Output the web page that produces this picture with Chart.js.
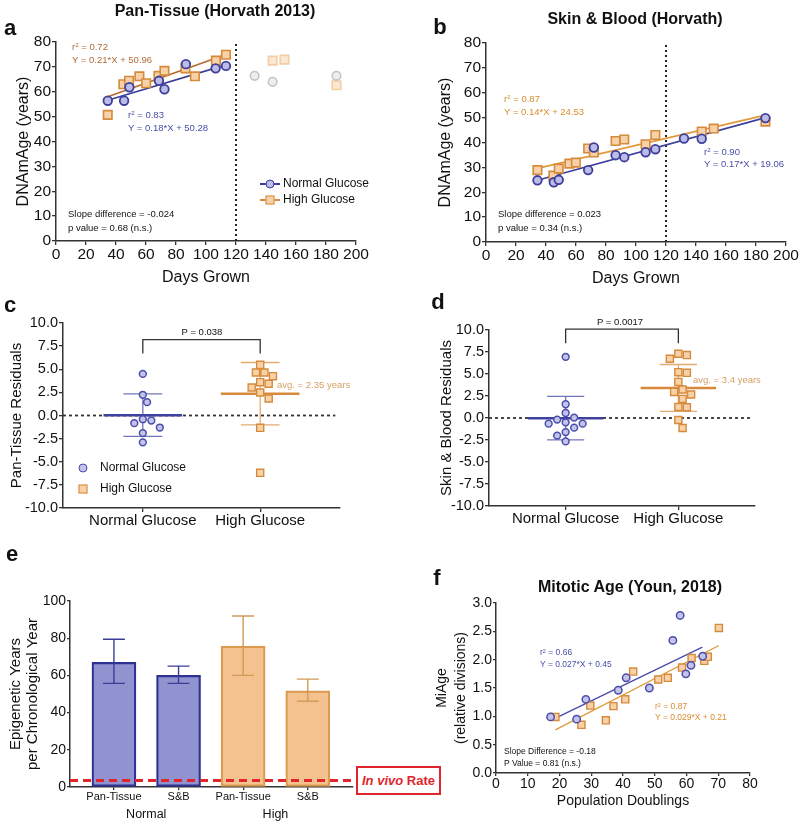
<!DOCTYPE html>
<html>
<head>
<meta charset="utf-8">
<title>Epigenetic ageing panels</title>
<script src="https://cdn.jsdelivr.net/npm/chart.js@4.4.1/dist/chart.umd.min.js"></script>
<style>
  body { margin: 0; background: #fff; }
  #fig { position: relative; width: 800px; height: 826px; overflow: hidden; font-family: "Liberation Sans", Arial, Helvetica, sans-serif; color: #111; }
  #fig canvas { position: absolute; }
  .t { position: absolute; white-space: nowrap; line-height: 1.15; transform: translateY(-50%); }
  .c { transform: translate(-50%, -50%); }
  .lab { font-size: 22px; font-weight: bold; }
  .ttl { font-size: 16px; font-weight: bold; }
  .s { font-size: 9.5px; }
  .xs { font-size: 8.5px; }
  .leg { font-size: 12px; }
  .blue { color: #4a4ea8; }
  .brown { color: #b06a35; }
  .org { color: #d98c2e; }
  .avg { color: #d6a062; }
  sup { font-size: 65%; line-height: 0; vertical-align: 0.45em; }
  .sym { position: absolute; transform: translate(-50%, -50%); box-sizing: border-box; }
</style>
</head>
<body>
<div id="fig"></div>
<script>
// ---- panel a: Pan-Tissue clock vs days grown
const aNormDays = [34.5, 45.4, 48.9, 68.6, 72.3, 86.6, 106.4, 113.3];
const aNormAge = [56.4, 56.4, 61.8, 64.4, 61.0, 71.1, 69.4, 70.4];
const aNormLateDays = [132.4, 144.4, 187];
const aNormLateAge = [66.4, 64.0, 66.4];
const aHighDays = [34.5, 44.9, 48.7, 55.6, 60.1, 68.3, 72.3, 86.3, 92.6, 106.6, 113.3];
const aHighAge = [50.7, 63.0, 64.4, 66.2, 63.4, 66.4, 68.4, 69.4, 66.2, 72.5, 74.9];
const aHighLateDays = [144.4, 152.3, 187];
const aHighLateAge = [72.5, 72.9, 62.6];
const aNormFit = [[34.5, 56.6], [113.3, 70.8]];
const aHighFit = [[34.5, 58.0], [113.3, 75.0]];

// ---- panel b: Skin & Blood clock vs days grown
const bNormDays = [34.3, 45.2, 48.5, 68.1, 71.9, 86.4, 92.2, 106.4, 112.9, 132, 143.8, 186.3];
const bNormAge = [24.8, 24.0, 25.0, 28.9, 38.0, 34.9, 34.1, 36.1, 37.3, 41.6, 41.5, 49.8];
const bHighDays = [34.3, 44.9, 48.5, 55.6, 59.9, 68.1, 71.9, 86.4, 92.2, 106.4, 112.9, 143.8, 151.8, 186.3];
const bHighAge = [28.9, 26.7, 29.5, 31.5, 31.9, 37.6, 36.0, 40.6, 41.2, 39.3, 43.0, 44.4, 45.6, 48.4];
const bNormFit = [[34.3, 24.8], [186.3, 50.0]];
const bHighFit = [[34.3, 29.6], [186.3, 51.0]];
const cutoffDay = 120;

// ---- panels c, d: residuals
const groups = ['Normal Glucose', 'High Glucose'];
const cNormRes = [4.5, 2.24, 1.44, -0.4, -0.54, -0.83, -1.3, -1.9, -2.9];
const cHighRes = [5.48, 4.65, 4.25, 4.65, 3.43, 3.03, 3.6, 2.49, 1.84, -1.33, -6.2];
const dNormRes = [6.95, 1.56, 0.57, 0.05, -0.18, -0.49, -0.64, -0.64, -1.1, -1.6, -2.0, -2.66];
const dHighRes = [7.3, 6.73, 7.15, 5.21, 5.13, 4.1, 3.24, 2.67, 2.96, 2.17, 1.22, 1.25, -0.23, -1.14];
const cBracket = [6.7, 8.2];
const dBracket = [8.5, 10.1];

// ---- panel e: rates
const eLabels = ['Pan-Tissue', 'S&B', 'Pan-Tissue', 'S&B'];
const eGroups = ['Normal', 'High'];
const eRate = [67.0, 60.0, 75.8, 51.7];
const eLow = [55.7, 55.7, 60.0, 46.1];
const eHigh = [79.4, 65.0, 91.9, 58.0];
const inVivoRate = 3.5;

// ---- panel f: MiAge vs population doublings
const fNormPD = [17.2, 25.4, 28.3, 38.5, 41.0, 48.3, 55.7, 58.0, 59.8, 61.4, 65.1];
const fNormAge = [0.99, 0.95, 1.30, 1.46, 1.68, 1.50, 2.34, 2.78, 1.75, 1.90, 2.06];
const fHighPD = [18.7, 26.9, 29.7, 34.6, 37.0, 40.7, 43.2, 51.1, 54.1, 58.6, 61.6, 65.6, 66.7, 70.2];
const fHighAge = [0.99, 0.85, 1.19, 0.93, 1.18, 1.30, 1.79, 1.65, 1.68, 1.86, 2.03, 1.98, 2.05, 2.56];
const fNormFit = [[18.6, 0.965], [65.0, 2.22]];
const fHighFit = [[18.7, 0.76], [70.2, 2.25]];

const NORM_EDGE = '#3d3f9b', NORM_FILL = '#bcbce8';
const HIGH_EDGE = '#d68a3c', HIGH_FILL = '#f7d2a8';

Chart.defaults.font.family = '"Liberation Sans", Arial, Helvetica, sans-serif';
Chart.defaults.color = '#111';
Chart.defaults.animation = false;
Chart.defaults.responsive = false;
Chart.defaults.plugins.legend.display = false;
Chart.defaults.plugins.tooltip.enabled = false;

const fig = document.getElementById('fig');

function pts(xs, ys) { return xs.map((x, i) => ({ x: x, y: ys[i] })); }

function dots(data, shape, edge, fill, r, bw) {
  return { type: 'scatter', data: data, pointStyle: shape, pointRadius: r, pointBorderWidth: bw,
    pointBorderColor: edge, pointBackgroundColor: fill, order: 0 };
}

// several line segments in one dataset, split with NaN gaps
function path(segs, color, width, dash, order) {
  const data = [];
  segs.forEach((s, k) => {
    if (k) data.push({ x: s[0][0], y: NaN });
    s.forEach(p => data.push({ x: p[0], y: p[1] }));
  });
  return { type: 'line', data: data, borderColor: color, borderWidth: width, borderDash: dash || [],
    pointRadius: 0, fill: false, tension: 0, spanGaps: false, clip: false,
    order: order == null ? 1 : order };
}

function axis(o) {
  return {
    type: 'linear', min: o.min, max: o.max, position: o.pos, bounds: 'data', offset: false,
    weight: o.weight || 0,
    afterFit: o.pos === 'left' ? s => { s.width = o.fit; } : s => { s.height = o.fit; },
    afterBuildTicks: o.at ? s => { s.ticks = o.at.map(v => ({ value: v })); } : undefined,
    ticks: { stepSize: o.step, font: { size: o.size }, color: '#111', padding: o.pad == null ? 1 : o.pad,
      maxRotation: 0, minRotation: 0, autoSkip: false, callback: o.fmt || (v => v) },
    grid: { display: !o.noGrid, drawOnChartArea: false, drawTicks: !o.noGrid, tickLength: o.tick == null ? 4 : o.tick,
      color: '#333', lineWidth: 1.3, offset: false },
    border: { display: !o.noBorder, color: '#333', width: 1.5 },
    title: { display: !!o.title, text: o.title, font: { size: o.tsize, lineHeight: o.tlh || 1.2 }, color: '#111',
      padding: { top: 2, bottom: 2 } }
  };
}

function mk(box, area, yW, xH, config) {
  const cv = document.createElement('canvas');
  cv.width = box.w; cv.height = box.h;
  cv.style.left = box.x + 'px'; cv.style.top = box.y + 'px';
  fig.appendChild(cv);
  config.options.layout = { padding: {
    left: area.l - box.x - yW, top: area.t - box.y,
    right: box.x + box.w - area.r, bottom: box.y + box.h - area.b - xH } };
  return new Chart(cv, config);
}

function note(x, y, html, cls) {
  const d = document.createElement('div');
  d.className = 't ' + (cls || '');
  d.style.left = x + 'px'; d.style.top = y + 'px';
  d.innerHTML = html;
  fig.appendChild(d);
}

function sym(x, y, shape, edge, fill, withLine) {
  if (withLine) {
    const l = document.createElement('div');
    l.style.cssText = `position:absolute;left:${x - 10}px;top:${y - 0.75}px;width:20px;height:1.5px;background:${edge};`;
    fig.appendChild(l);
  }
  const s = document.createElement('div');
  s.className = 'sym';
  s.style.cssText += `left:${x}px;top:${y}px;width:9px;height:9px;border:1.6px solid ${edge};background:${fill};border-radius:${shape === 'circle' ? '50%' : '0'};`;
  fig.appendChild(s);
}

// simple beeswarm so the dots of one group do not overlap
function swarm(center, vals, pxX, pxY, d) {
  const placed = [];
  const xs = new Array(vals.length);
  const order = vals.map((v, i) => i).sort((i, j) => vals[j] - vals[i]);
  order.forEach(i => {
    const y = vals[i] * pxY;
    for (let k = 0; k < 60; k++) {
      const off = (k === 0 ? 0 : (k % 2 ? 1 : -1) * Math.ceil(k / 2)) * d * 0.5;
      if (placed.every(p => Math.hypot(p[0] - off, p[1] - y) >= d)) {
        placed.push([off, y]);
        xs[i] = center + off / pxX;
        break;
      }
    }
  });
  return vals.map((v, i) => ({ x: xs[i], y: v }));
}

function meanSd(vals) {
  const m = vals.reduce((a, b) => a + b, 0) / vals.length;
  const v = vals.reduce((a, b) => a + (b - m) * (b - m), 0) / (vals.length - 1);
  return [m, Math.sqrt(v)];
}

function meanBars(c, vals, mainColor, sdColor) {
  const [m, sd] = meanSd(vals);
  return [
    path([[[c - 0.335, m], [c + 0.335, m]]], mainColor, 2.5),
    path([[[c, m - sd], [c, m + sd]], [[c - 0.165, m + sd], [c + 0.165, m + sd]],
      [[c - 0.165, m - sd], [c + 0.165, m - sd]]], sdColor, 1.3)
  ];
}

// ---------------- panel a
mk({ x: 0, y: 0, w: 400, h: 300 }, { l: 56, r: 356, t: 42, b: 241 }, 44, 48, {
  type: 'scatter',
  data: { datasets: [
    dots(pts(aNormDays, aNormAge), 'circle', NORM_EDGE, NORM_FILL, 4.3, 1.8),
    dots(pts(aHighDays, aHighAge), 'rect', HIGH_EDGE, HIGH_FILL, 6, 1.6),
    dots(pts(aNormLateDays, aNormLateAge), 'circle', '#c4c4c4', '#eeeeee', 4.3, 1.6),
    dots(pts(aHighLateDays, aHighLateAge), 'rect', '#f2cda6', '#fbe7d2', 6, 1.6),
    path([aNormFit], '#3d3f9b', 1.6),
    path([aHighFit], '#b8692e', 1.6),
    path([[[cutoffDay, 0], [cutoffDay, 80]]], '#222', 2, [2, 3])
  ] },
  options: { scales: {
    x: axis({ min: 0, max: 200, step: 20, pos: 'bottom', size: 15.5, fit: 48, pad: 0, title: 'Days Grown', tsize: 16 }),
    y: axis({ min: 0, max: 80, step: 10, pos: 'left', size: 15.5, fit: 44, title: 'DNAmAge (years)', tsize: 16 })
  } }
});

// ---------------- panel b
mk({ x: 400, y: 0, w: 400, h: 300 }, { l: 486, r: 786, t: 43, b: 242 }, 52, 48, {
  type: 'scatter',
  data: { datasets: [
    dots(pts(bNormDays, bNormAge), 'circle', NORM_EDGE, NORM_FILL, 4.3, 1.8),
    dots(pts(bHighDays, bHighAge), 'rect', HIGH_EDGE, HIGH_FILL, 6, 1.6),
    path([bNormFit], '#3d3f9b', 1.6),
    path([bHighFit], '#e09a3c', 1.6),
    path([[[cutoffDay, 0], [cutoffDay, 80]]], '#222', 2, [2, 3])
  ] },
  options: { scales: {
    x: axis({ min: 0, max: 200, step: 20, pos: 'bottom', size: 15.5, fit: 48, pad: 0, title: 'Days Grown', tsize: 16 }),
    y: axis({ min: 0, max: 80, step: 10, pos: 'left', size: 15.5, fit: 52, title: 'DNAmAge (years)', tsize: 16 })
  } }
});

// ---------------- panels c and d (residual dot plots)
function residualPanel(box, area, yW, normVals, highVals, bracket, title) {
  const xmin = -0.68, xmax = 1.68;
  const pxX = (area.r - area.l) / (xmax - xmin);
  const pxY = (area.b - area.t) / 20;
  const norm = swarm(0, normVals, pxX, pxY, 8.5);
  const high = swarm(1, highVals, pxX, pxY, 8.5);
  mk(box, area, yW, 30, {
    type: 'scatter',
    data: { datasets: [
      dots(norm, 'circle', '#4a4daa', '#c3c3ec', 3.4, 1.5),
      dots(high, 'rect', HIGH_EDGE, HIGH_FILL, 5, 1.4),
      ...meanBars(0, normVals, '#3e41a0', '#7476bd'),
      ...meanBars(1, highVals, '#d9893a', '#e3ac70'),
      path([[[xmin, 0], [xmax - 0.04, 0]]], '#333', 1.8, [3, 3], 2),
      path([[[0, bracket[0]], [0, bracket[1]], [1, bracket[1]], [1, bracket[0]]]], '#333', 1.3)
    ] },
    options: { scales: {
      x: axis({ min: xmin, max: xmax, pos: 'bottom', at: [0, 1], size: 15, fit: 30, pad: 0,
        fmt: (v, i) => groups[i] }),
      y: axis({ min: -10, max: 10, step: 2.5, pos: 'left', size: 14.5, fit: yW, title: title, tsize: 15,
        fmt: v => v.toFixed(1) })
    } }
  });
}
residualPanel({ x: 0, y: 300, w: 400, h: 240 }, { l: 63, r: 340, t: 323, b: 508 }, 57,
  cNormRes, cHighRes, cBracket, 'Pan-Tissue Residuals');
residualPanel({ x: 400, y: 300, w: 400, h: 240 }, { l: 489, r: 755, t: 330, b: 506 }, 53,
  dNormRes, dHighRes, dBracket, 'Skin & Blood Residuals');

// ---------------- panel e (bars)
const eIdx = eRate.map((v, i) => i);
const eBarFill = ['#9193d1', '#9193d1', '#f4c28e', '#f4c28e'];
const eBarEdge = ['#2e3192', '#2e3192', '#dc9a4e', '#dc9a4e'];
function errSegs(list) {
  const segs = [];
  list.forEach(i => {
    segs.push([[i, eLow[i]], [i, eHigh[i]]]);
    segs.push([[i - 0.17, eHigh[i]], [i + 0.17, eHigh[i]]]);
    segs.push([[i - 0.17, eLow[i]], [i + 0.17, eLow[i]]]);
  });
  return segs;
}
mk({ x: 0, y: 560, w: 400, h: 266 }, { l: 70, r: 353, t: 601, b: 787 }, 65, 38, {
  type: 'bar',
  data: { datasets: [
    { type: 'bar', data: pts(eIdx, eRate), backgroundColor: eBarFill, borderColor: eBarEdge,
      borderWidth: 2.2, barThickness: 44, borderSkipped: false, order: 2 },
    path(errSegs([0, 1]), '#3a3d96', 1.4, [], 0),
    path(errSegs([2, 3]), '#d49a57', 1.4, [], 0),
    path([[[-0.68, inVivoRate], [3.72, inVivoRate]]], '#e0262c', 3, [8, 5], 0)
  ] },
  options: { scales: {
    x: axis({ min: -0.68, max: 3.7, pos: 'bottom', at: eIdx, size: 11, fit: 18, pad: 0.5, tick: 3,
      fmt: (v, i) => eLabels[i] }),
    x2: axis({ min: -0.68, max: 3.7, pos: 'bottom', weight: 1, at: [0.5, 2.5], size: 12.5, fit: 20, pad: 2.5,
      noGrid: true, noBorder: true, fmt: (v, i) => eGroups[i] }),
    y: axis({ min: 0, max: 100, step: 20, pos: 'left', size: 14, fit: 65, tick: 3,
      title: ['Epigenetic Years', 'per Chronological Year'], tsize: 15, tlh: 1.15 })
  } }
});

// ---------------- panel f
mk({ x: 400, y: 560, w: 400, h: 266 }, { l: 496, r: 750, t: 603, b: 773 }, 65, 39, {
  type: 'scatter',
  data: { datasets: [
    dots(pts(fNormPD, fNormAge), 'circle', '#4a4daa', '#c3c3ec', 3.7, 1.5),
    dots(pts(fHighPD, fHighAge), 'rect', HIGH_EDGE, HIGH_FILL, 5, 1.4),
    path([fNormFit], '#4a4daa', 1.4),
    path([fHighFit], '#e09a3c', 1.4)
  ] },
  options: { scales: {
    x: axis({ min: 0, max: 80, step: 10, pos: 'bottom', size: 14, fit: 39, pad: 0, tick: 3,
      title: 'Population Doublings', tsize: 14 }),
    y: axis({ min: 0, max: 3, step: 0.5, pos: 'left', size: 14, fit: 65, tick: 3,
      title: ['MiAge', '(relative divisions)'], tsize: 14, tlh: 1.35, fmt: v => v.toFixed(1) })
  } }
});

// ---------------- text overlays
note(10, 28, 'a', 'lab c');
note(440, 27, 'b', 'lab c');
note(10, 305, 'c', 'lab c');
note(438, 302, 'd', 'lab c');
note(12, 554, 'e', 'lab c');
note(437, 578, 'f', 'lab c');

note(215, 11, 'Pan-Tissue (Horvath 2013)', 'ttl c');
note(635, 19, 'Skin &amp; Blood (Horvath)', 'ttl c');
note(630, 587, 'Mitotic Age (Youn, 2018)', 'ttl c');

note(72, 47, 'r<sup>2</sup> = 0.72', 's brown');
note(72, 60, 'Y = 0.21*X + 50.96', 's brown');
note(128, 115, 'r<sup>2</sup> = 0.83', 's blue');
note(128, 128, 'Y = 0.18*X + 50.28', 's blue');
note(68, 214, 'Slope difference = -0.024', 's');
note(68, 228, 'p value = 0.68 (n.s.)', 's');
sym(270, 184, 'circle', NORM_EDGE, NORM_FILL, true);
sym(270, 200, 'rect', HIGH_EDGE, HIGH_FILL, true);
note(283, 184, 'Normal Glucose', 'leg');
note(283, 200, 'High Glucose', 'leg');

note(504, 99, 'r<sup>2</sup> = 0.87', 's org');
note(504, 112, 'Y = 0.14*X + 24.53', 's org');
note(704, 152, 'r<sup>2</sup> = 0.90', 's blue');
note(704, 164, 'Y = 0.17*X + 19.06', 's blue');
note(498, 214, 'Slope difference = 0.023', 's');
note(498, 228, 'p value = 0.34 (n.s.)', 's');

note(202, 332, 'P = 0.038', 's c');
note(277, 385, 'avg. = 2.35 years', 's avg');
sym(83, 468, 'circle', '#4a4daa', '#c3c3ec', false);
sym(83, 489, 'rect', HIGH_EDGE, HIGH_FILL, false);
note(100, 468, 'Normal Glucose', 'leg');
note(100, 489, 'High Glucose', 'leg');

note(620, 322, 'P = 0.0017', 's c');
note(693, 380, 'avg. = 3.4 years', 's avg');

note(540, 653, 'r<sup>2</sup> = 0.66', 'xs blue');
note(540, 665, 'Y = 0.027*X + 0.45', 'xs blue');
note(655, 707, 'r<sup>2</sup> = 0.87', 'xs org');
note(655, 718, 'Y = 0.029*X + 0.21', 'xs org');
note(504, 752, 'Slope Difference = -0.18', 'xs');
note(504, 764, 'P Value = 0.81 (n.s.)', 'xs');

const vivo = document.createElement('div');
vivo.style.cssText = 'position:absolute;left:356px;top:766px;width:85px;height:29px;box-sizing:border-box;' +
  'border:2.5px solid #e0262c;color:#e0262c;font-weight:bold;font-size:13px;display:flex;' +
  'align-items:center;justify-content:center;background:#fff;';
vivo.innerHTML = '<i>In vivo</i>&nbsp;Rate';
fig.appendChild(vivo);
</script>
</body>
</html>
